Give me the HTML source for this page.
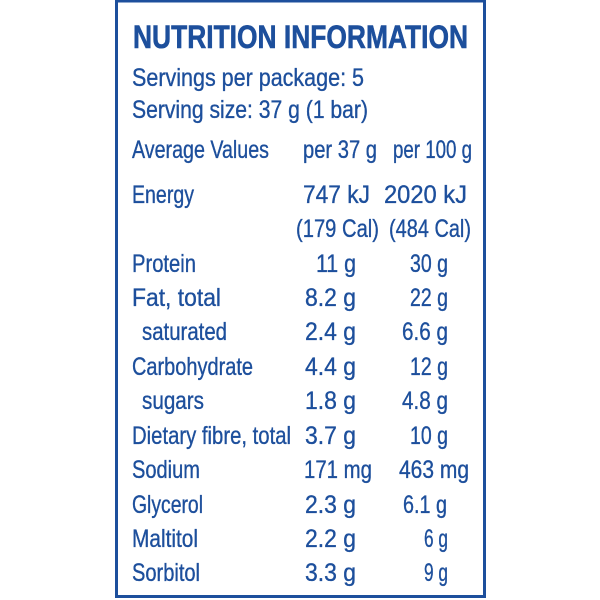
<!DOCTYPE html>
<html><head><meta charset="utf-8"><style>
html,body{margin:0;padding:0;background:#fff;}
svg{display:block;}
text{font-family:"Liberation Sans",sans-serif;fill:#1d4f9c;font-size:25px;stroke:#1d4f9c;stroke-width:0.35px;}
</style></head><body>
<svg width="600" height="600" viewBox="0 0 600 600" xmlns="http://www.w3.org/2000/svg">
<rect x="116.5" y="1" width="368" height="595.5" fill="none" stroke="#1d4f9c" stroke-width="3"/>
<g>
<text x="133" y="48" font-weight="bold" style="font-size:32px;stroke-width:0.6px" textLength="335" lengthAdjust="spacingAndGlyphs">NUTRITION INFORMATION</text>
<text x="132" y="86" textLength="232" lengthAdjust="spacingAndGlyphs">Servings per package: 5</text>
<text x="132" y="118" textLength="236" lengthAdjust="spacingAndGlyphs">Serving size: 37 g (1 bar)</text>
<text x="132" y="158" textLength="137" lengthAdjust="spacingAndGlyphs">Average Values</text>
<text x="303" y="158" textLength="74" lengthAdjust="spacingAndGlyphs">per 37 g</text>
<text x="393" y="158" textLength="79" lengthAdjust="spacingAndGlyphs">per 100 g</text>

<text x="132" y="203" textLength="62" lengthAdjust="spacingAndGlyphs">Energy</text>
<text x="303" y="203" textLength="67" lengthAdjust="spacingAndGlyphs">747 kJ</text>
<text x="384" y="203" textLength="83" lengthAdjust="spacingAndGlyphs">2020 kJ</text>
<text x="296" y="237" textLength="83" lengthAdjust="spacingAndGlyphs">(179 Cal)</text>
<text x="389" y="237" textLength="82" lengthAdjust="spacingAndGlyphs">(484 Cal)</text>

<text x="132" y="272" textLength="64" lengthAdjust="spacingAndGlyphs">Protein</text>
<text x="316" y="272" textLength="40" lengthAdjust="spacingAndGlyphs">11 g</text>
<text x="410" y="272" textLength="38" lengthAdjust="spacingAndGlyphs">30 g</text>

<text x="132" y="306" textLength="89" lengthAdjust="spacingAndGlyphs">Fat, total</text>
<text x="305" y="306" textLength="51" lengthAdjust="spacingAndGlyphs">8.2 g</text>
<text x="410" y="306" textLength="38" lengthAdjust="spacingAndGlyphs">22 g</text>

<text x="142" y="340" textLength="85" lengthAdjust="spacingAndGlyphs">saturated</text>
<text x="305" y="340" textLength="51" lengthAdjust="spacingAndGlyphs">2.4 g</text>
<text x="402" y="340" textLength="46" lengthAdjust="spacingAndGlyphs">6.6 g</text>

<text x="132" y="375" textLength="121" lengthAdjust="spacingAndGlyphs">Carbohydrate</text>
<text x="305" y="375" textLength="51" lengthAdjust="spacingAndGlyphs">4.4 g</text>
<text x="410" y="375" textLength="38" lengthAdjust="spacingAndGlyphs">12 g</text>

<text x="142" y="409" textLength="62" lengthAdjust="spacingAndGlyphs">sugars</text>
<text x="305" y="409" textLength="51" lengthAdjust="spacingAndGlyphs">1.8 g</text>
<text x="402" y="409" textLength="46" lengthAdjust="spacingAndGlyphs">4.8 g</text>

<text x="132" y="444" textLength="159" lengthAdjust="spacingAndGlyphs">Dietary fibre, total</text>
<text x="305" y="444" textLength="51" lengthAdjust="spacingAndGlyphs">3.7 g</text>
<text x="410" y="444" textLength="38" lengthAdjust="spacingAndGlyphs">10 g</text>

<text x="132" y="478" textLength="68" lengthAdjust="spacingAndGlyphs">Sodium</text>
<text x="304" y="478" textLength="68" lengthAdjust="spacingAndGlyphs">171 mg</text>
<text x="399" y="478" textLength="70" lengthAdjust="spacingAndGlyphs">463 mg</text>

<text x="132" y="513" textLength="71" lengthAdjust="spacingAndGlyphs">Glycerol</text>
<text x="305" y="513" textLength="51" lengthAdjust="spacingAndGlyphs">2.3 g</text>
<text x="403" y="513" textLength="44" lengthAdjust="spacingAndGlyphs">6.1 g</text>

<text x="132" y="547" textLength="66" lengthAdjust="spacingAndGlyphs">Maltitol</text>
<text x="305" y="547" textLength="51" lengthAdjust="spacingAndGlyphs">2.2 g</text>
<text x="424" y="547" textLength="24" lengthAdjust="spacingAndGlyphs">6 g</text>

<text x="132" y="581" textLength="68" lengthAdjust="spacingAndGlyphs">Sorbitol</text>
<text x="305" y="581" textLength="51" lengthAdjust="spacingAndGlyphs">3.3 g</text>
<text x="424" y="581" textLength="24" lengthAdjust="spacingAndGlyphs">9 g</text>
</g>
</svg>
</body></html>
